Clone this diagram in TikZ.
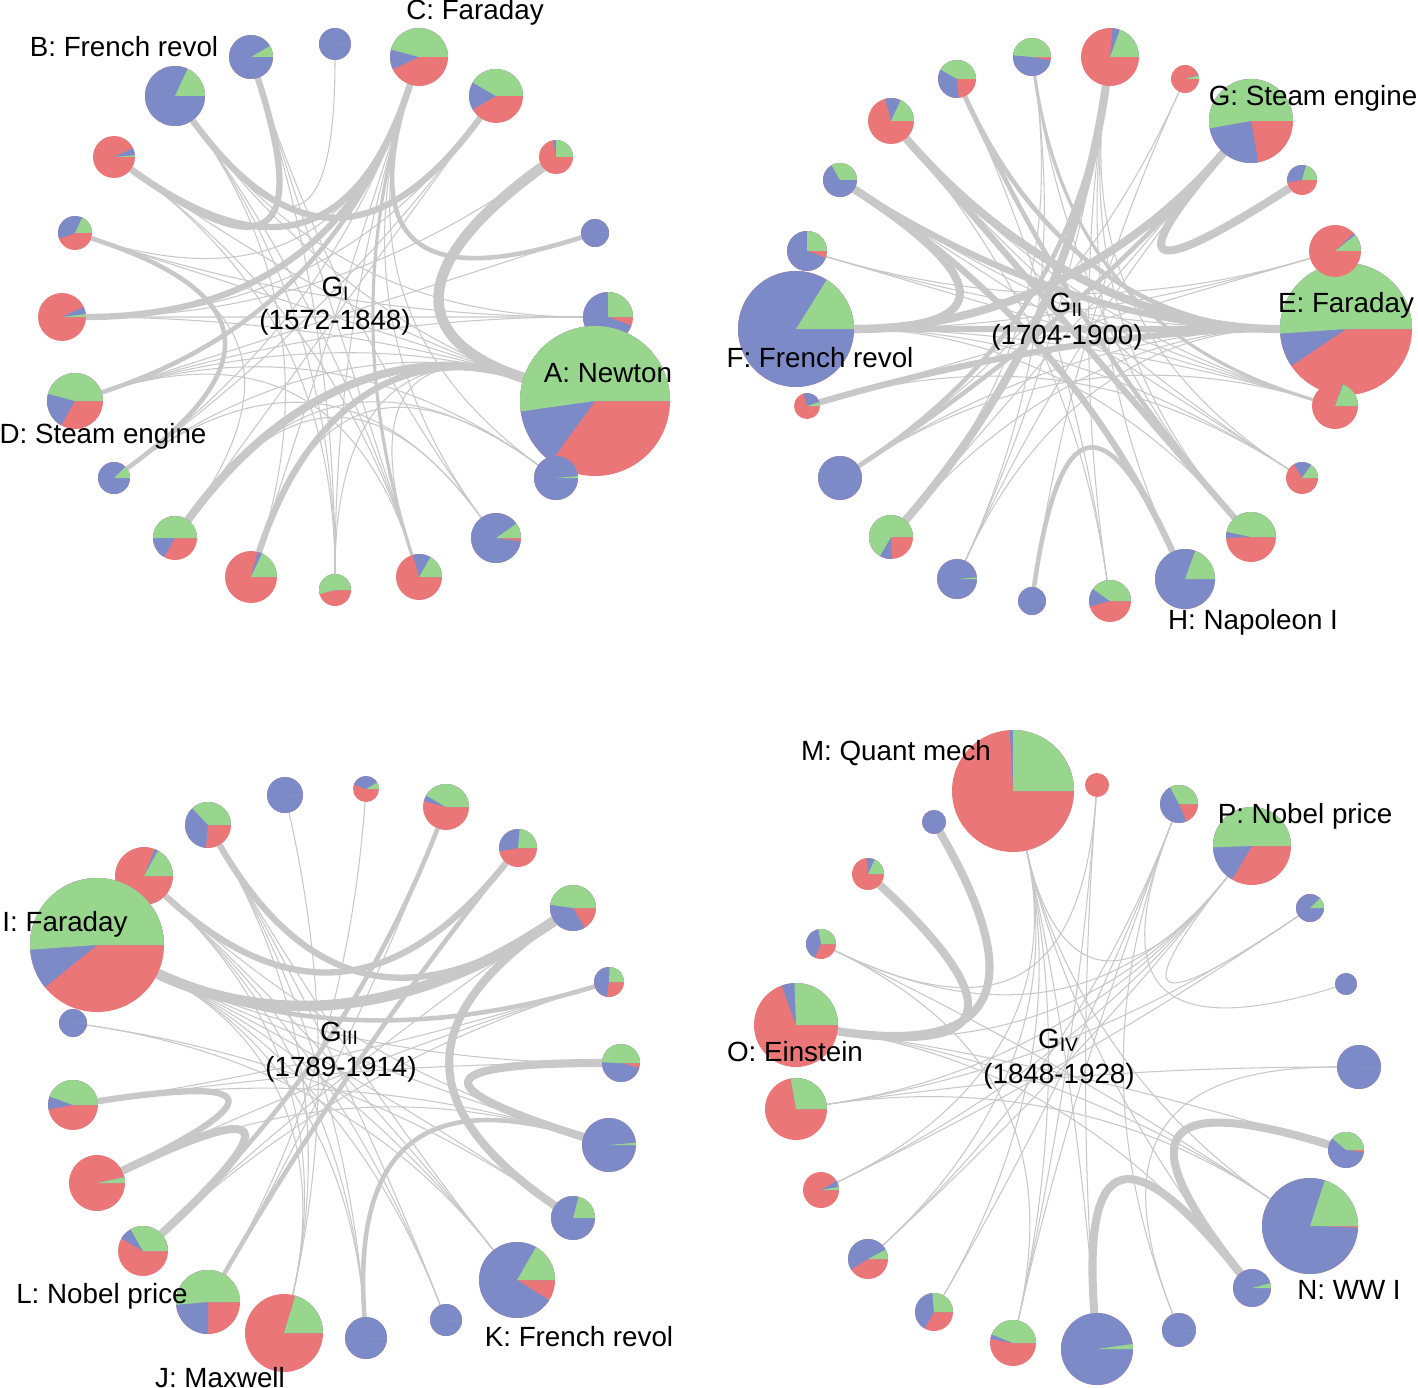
\documentclass[tikz,border=0pt]{standalone}
\usepackage{fontspec}
\setmainfont{Liberation Sans}
\usetikzlibrary{calc}
\definecolor{cg}{RGB}{152,214,142}
\definecolor{cb}{RGB}{124,138,200}
\definecolor{cr}{RGB}{234,118,120}
\definecolor{ce}{RGB}{200,200,200}
\tikzset{
 pn/.style={circle, inner sep=0pt, outer sep=0pt, draw=none},
 e1/.style={draw=ce, line width=0.3pt},
 e2/.style={draw=ce, line width=0.9pt},
 e3/.style={draw=ce, line width=1.3pt},
 e4/.style={draw=ce, line width=1.8pt},
 e5/.style={draw=ce, line width=2.3pt},
 e7/.style={draw=ce, line width=3pt},
 lab/.style={inner sep=0pt, anchor=base, font=\fontsize{7.9pt}{9pt}\selectfont},
}
\newcommand\edgeC[3][e1]{\draw[#1] (#2) .. controls ($(#2)!0.7!(\cen)$) and ($(#3)!0.7!(\cen)$) .. (#3);}
\newcommand\mknodes[1]{\foreach \pn/\px/\py/\pr/\pg/\pb in #1 {\node[pn, minimum size=\pr*0.02cm] (\pn) at (\px,\py) {};}}
\newcommand\mkpies[1]{\foreach \pn/\px/\py/\pr/\pg/\pb in #1 {
 \fill[cr] (\pn.center) circle[radius=\pr*0.01cm];
 \fill[cb] (\pn.center) -- ++(\pr*0.01cm,0cm) arc[start angle=0,end angle=\pb,radius=\pr*0.01cm] -- cycle;
 \fill[cg] (\pn.center) -- ++(\pr*0.01cm,0cm) arc[start angle=0,end angle=\pg,radius=\pr*0.01cm] -- cycle;
}}
\def\LA{a0/335/44/16/0/360,a1/419/57/29/165/205,a2/496/96/27/150/210,a3/556/157/17/90/100,a4/595/233/14/0/360,a5/608/317/25/90/340,a6/595/401/75/188/234,a7/556/478/22/5/360,a8/496/538/25/35/352,a9/419/577/23/60/105,a10/335/590/16/195/195,a11/251/577/26/65/75,a12/175/538/22/180/240,a13/114/478/16/45/360,a14/75/401/28/165/240,a15/62/317/24/7/25,a16/75/233/17/65/200,a17/114/157/21/5/25,a18/175/96/30/65/360,a19/251/57/22/30/360}
\def\LB{b0/1346/329/66/184/214,b1/1335/251/26/38/43,b2/1302/180/15/75/190,b3/1251/121/42/190/280,b4/1185/79/14/15/18,b5/1110/57/29/70/85,b6/1032/57/19/175/350,b7/957/79/19/150/275,b8/891/121/23/65/105,b9/840/180/17/120/360,b10/807/251/20/90/340,b11/796/329/58/58/360,b12/807/406/13/18/105,b13/840/478/22/0/360,b14/891/537/22/240/272,b15/957/579/20/5/360,b16/1032/601/14/0/360,b17/1110/601/21/145/195,b18/1185/579/30/70/360,b19/1251/537/25/168/182,b20/1302/478/16/55/120,b21/1335/406/23/70/72}
\def\LC{c0/621/1063/19/178/345,c1/609/982/15/88/260,c2/573/908/23/172/300,c3/518/848/19/85/190,c4/446/807/23/150/165,c5/366/789/13/30/160,c6/285/795/18/0/360,c7/208/825/23/133/265,c8/144/876/29/61/68,c9/97/945/67/184/219,c10/73/1023/14/0/360,c11/73/1105/25/160/190,c12/97/1183/28/12/12,c13/143/1251/25/120/150,c14/208/1302/32/185/270,c15/284/1333/39/73/73,c16/366/1338/21/0/360,c17/446/1320/16/0/360,c18/517/1280/38/60/328,c19/573/1218/22/75/360,c20/609/1145/27/5/360}
\def\LD{d0/1359/1067/22/0/360,d1/1346/984/11/0/360,d2/1310/908/14/45/360,d3/1252/846/39/182/239,d4/1179/804/19/118/292,d5/1097/785/12/0/0,d6/1013/791/61/90/93,d7/934/822/12/0/360,d8/868/874/16/65/95,d9/821/944/15/100/245,d10/796/1025/42/92/110,d11/796/1109/31/100/100,d12/821/1190/18/10/30,d13/868/1259/20/28/212,d14/934/1312/19/95/240,d15/1013/1343/23/158/170,d16/1097/1349/36/8/360,d17/1179/1330/17/0/360,d18/1252/1288/19/15/360,d19/1310/1226/48/72/358,d20/1346/1150/18/140/352}
\begin{document}
\begin{tikzpicture}[x=0.01cm,y=-0.01cm]
\useasboundingbox (0,0) rectangle (1418,1388);
\fill[white] (0,0) rectangle (1418,1388);
\coordinate (cI) at (335,317);
\coordinate (cII) at (1071,329);
\coordinate (cIII) at (346,1063);
\coordinate (cIV) at (1076,1067);
\mknodes{\LA}
\mknodes{\LB}
\mknodes{\LC}
\mknodes{\LD}
% ---------- panel I edges
\def\cen{cI}
\edgeC{a0}{a18}\edgeC{a18}{a11}\edgeC{a18}{a10}\edgeC{a18}{a9}\edgeC{a18}{a6}\edgeC{a18}{a5}
\edgeC{a19}{a10}\edgeC{a19}{a9}\edgeC{a19}{a8}\edgeC{a1}{a13}\edgeC{a1}{a11}\edgeC{a1}{a10}
\edgeC{a1}{a8}\edgeC{a1}{a7}\edgeC{a1}{a16}\edgeC{a2}{a13}\edgeC{a2}{a12}\edgeC{a2}{a15}
\edgeC{a5}{a15}\edgeC{a5}{a14}\edgeC{a5}{a16}\edgeC{a6}{a15}\edgeC{a6}{a14}\edgeC{a6}{a16}
\edgeC{a6}{a13}\edgeC{a6}{a17}\edgeC{a6}{a9}\edgeC{a6}{a10}\edgeC{a7}{a12}\edgeC{a7}{a11}
\edgeC{a7}{a14}\edgeC{a8}{a13}\edgeC{a8}{a12}\edgeC{a9}{a14}\edgeC{a9}{a17}\edgeC{a10}{a17}
\edgeC{a12}{a16}\edgeC{a3}{a15}\edgeC{a4}{a14}
\edgeC[e7]{a6}{a3}\edgeC[e5]{a6}{a12}\edgeC[e4]{a6}{a11}\edgeC[e4]{a1}{a15}
\edgeC[e3]{a1}{a14}\edgeC[e3]{a1}{a4}\edgeC[e4]{a1}{a17}\edgeC[e4]{a18}{a2}
\edgeC[e4]{a19}{a17}\edgeC[e3]{a16}{a13}\edgeC[e2]{a9}{a1}
% ---------- panel II edges
\def\cen{cII}
\edgeC{b10}{b0}\edgeC{b10}{b1}\edgeC{b10}{b21}\edgeC{b1}{b11}\edgeC{b1}{b12}\edgeC{b4}{b16}
\edgeC{b6}{b15}\edgeC{b6}{b14}\edgeC{b5}{b17}\edgeC{b5}{b18}\edgeC{b5}{b19}\edgeC{b5}{b20}
\edgeC{b0}{b13}\edgeC{b0}{b15}\edgeC{b0}{b14}\edgeC{b21}{b11}\edgeC{b21}{b9}\edgeC{b21}{b8}
\edgeC{b20}{b9}\edgeC{b20}{b8}\edgeC{b17}{b7}\edgeC{b15}{b3}\edgeC{b15}{b5}\edgeC{b14}{b3}
\edgeC{b13}{b21}\edgeC{b12}{b20}\edgeC{b11}{b20}\edgeC{b11}{b19}\edgeC{b6}{b19}\edgeC{b4}{b13}
\edgeC{b8}{b17}
\edgeC[e5]{b8}{b0}\edgeC[e4]{b8}{b19}\edgeC[e3]{b7}{b0}\edgeC[e3]{b7}{b19}
\edgeC[e4]{b9}{b0}\edgeC[e5]{b9}{b11}\edgeC[e4]{b9}{b18}\edgeC[e5]{b5}{b14}
\edgeC[e3]{b5}{b13}\edgeC[e5]{b3}{b11}\edgeC[e5]{b3}{b2}\edgeC[e3]{b3}{b13}
\edgeC[e4]{b11}{b0}\edgeC[e4]{b12}{b0}\edgeC[e3]{b16}{b18}\edgeC[e2]{b6}{b21}
% ---------- panel III edges
\def\cen{cIII}
\edgeC{c9}{c18}\edgeC{c9}{c17}\edgeC{c9}{c19}\edgeC{c9}{c16}\edgeC{c9}{c15}\edgeC{c9}{c0}
\edgeC{c9}{c20}\edgeC{c10}{c18}\edgeC{c6}{c15}\edgeC{c5}{c14}\edgeC{c7}{c15}\edgeC{c7}{c16}
\edgeC{c7}{c17}\edgeC{c4}{c14}\edgeC{c18}{c7}\edgeC{c18}{c8}\edgeC{c15}{c8}\edgeC{c17}{c8}
\edgeC{c0}{c11}\edgeC{c1}{c11}\edgeC{c20}{c11}\edgeC{c20}{c12}\edgeC{c16}{c8}\edgeC{c19}{c10}
\edgeC{c13}{c1}\edgeC{c12}{c1}\edgeC{c8}{c20}\edgeC{c2}{c13}
\edgeC[e7]{c9}{c2}\edgeC[e4]{c7}{c2}\edgeC[e4]{c8}{c3}\edgeC[e3]{c9}{c1}
\edgeC[e4]{c11}{c12}\edgeC[e5]{c12}{c13}\edgeC[e3]{c4}{c13}\edgeC[e3]{c3}{c14}
\edgeC[e5]{c0}{c20}\edgeC[e5]{c2}{c19}\edgeC[e3]{c16}{c20}
% ---------- panel IV edges
\def\cen{cIV}
\edgeC{d6}{d15}\edgeC{d6}{d16}\edgeC{d6}{d3}\edgeC{d6}{d13}\edgeC{d6}{d18}\edgeC{d6}{d19}
\edgeC{d6}{d12}\edgeC{d3}{d11}\edgeC{d3}{d12}\edgeC{d3}{d13}\edgeC{d3}{d10}\edgeC{d3}{d9}
\edgeC{d4}{d15}\edgeC{d4}{d14}\edgeC{d5}{d15}\edgeC{d5}{d16}\edgeC{d5}{d9}\edgeC{d10}{d19}
\edgeC{d10}{d20}\edgeC{d10}{d18}\edgeC{d11}{d0}\edgeC{d12}{d2}\edgeC{d14}{d6}\edgeC{d15}{d9}
\edgeC{d17}{d4}\edgeC{d19}{d9}\edgeC{d19}{d11}\edgeC{d0}{d17}\edgeC{d1}{d4}\edgeC{d2}{d3}
\edgeC{d11}{d2}\edgeC{d13}{d4}
\edgeC[e5]{d8}{d10}\edgeC[e5]{d7}{d10}\edgeC[e5]{d20}{d18}\edgeC[e5]{d16}{d18}
% ---------- pies
\mkpies{\LA}
\mkpies{\LB}
\mkpies{\LC}
\mkpies{\LD}
% ---------- labels
\node[lab] (lA) at (608,383) {A: Newton};
\node[lab] (lB) at (124,57) {B: French revol};
\node[lab] (lC) at (475,20) {C: Faraday};
\node[lab] (lD) at (103,443) {D: Steam engine};
\node[lab] (gI) at (336,297) {G\textsubscript{I}};
\node[lab] (yI) at (335,330) {(1572-1848)};
\node[lab] (lG) at (1313,106) {G: Steam engine};
\node[lab] (lE) at (1346,313) {E: Faraday};
\node[lab] (lF) at (820,367) {F: French revol};
\node[lab] (lH) at (1253,629) {H: Napoleon I};
\node[lab] (gII) at (1067,313) {G\textsubscript{II}};
\node[lab] (yII) at (1067,344) {(1704-1900)};
\node[lab] (lI) at (65,931) {I: Faraday};
\node[lab] (lL) at (102,1303) {L: Nobel price};
\node[lab] (lJ) at (220,1387) {J: Maxwell};
\node[lab] (lK) at (579,1346) {K: French revol};
\node[lab] (gIII) at (340,1041) {G\textsubscript{III}};
\node[lab] (yIII) at (341,1076) {(1789-1914)};
\node[lab] (lM) at (896,760) {M: Quant mech};
\node[lab] (lP) at (1305,823) {P: Nobel price};
\node[lab] (lO) at (795,1061) {O: Einstein};
\node[lab] (lN) at (1349,1299) {N: WW I};
\node[lab] (gIV) at (1059,1048) {G\textsubscript{IV}};
\node[lab] (yIV) at (1059,1083) {(1848-1928)};
\end{tikzpicture}
\end{document}
